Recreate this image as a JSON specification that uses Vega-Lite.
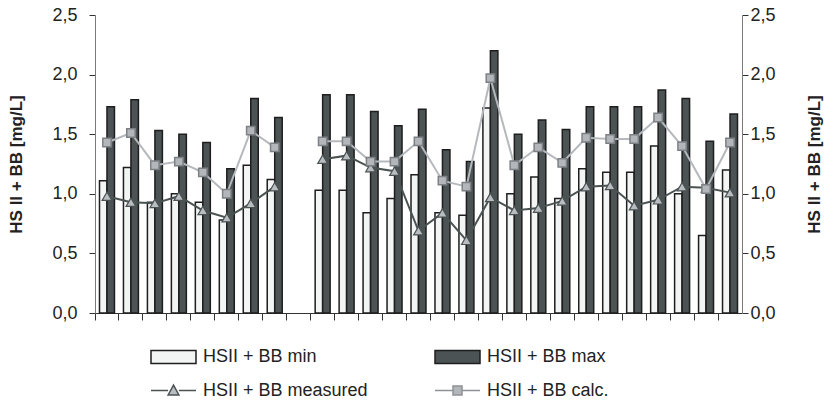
{
  "$schema": "https://vega.github.io/schema/vega-lite/v6.json",
  "width": 647,
  "height": 298,
  "autosize": {"type": "none"},
  "padding": {"left": 95, "top": 15, "right": 86, "bottom": 88},
  "background": "white",
  "config": {
    "view": {"stroke": null},
    "font": "Liberation Sans",
    "axis": {"labelFont": "Liberation Sans", "titleFont": "Liberation Sans", "labelColor": "#222", "titleColor": "#222"},
    "legend": {"labelFont": "Liberation Sans", "labelColor": "#222"}
  },
  "data": {
    "values": [
      {"cat": 1, "seg": 1, "series": "min", "value": 1.11}, {"cat": 1, "seg": 1, "series": "max", "value": 1.73}, {"cat": 1, "seg": 1, "series": "measured", "value": 0.98}, {"cat": 1, "seg": 1, "series": "calc", "value": 1.43},
      {"cat": 2, "seg": 1, "series": "min", "value": 1.22}, {"cat": 2, "seg": 1, "series": "max", "value": 1.79}, {"cat": 2, "seg": 1, "series": "measured", "value": 0.93}, {"cat": 2, "seg": 1, "series": "calc", "value": 1.51},
      {"cat": 3, "seg": 1, "series": "min", "value": 0.93}, {"cat": 3, "seg": 1, "series": "max", "value": 1.53}, {"cat": 3, "seg": 1, "series": "measured", "value": 0.92}, {"cat": 3, "seg": 1, "series": "calc", "value": 1.24},
      {"cat": 4, "seg": 1, "series": "min", "value": 1.00}, {"cat": 4, "seg": 1, "series": "max", "value": 1.50}, {"cat": 4, "seg": 1, "series": "measured", "value": 0.98}, {"cat": 4, "seg": 1, "series": "calc", "value": 1.27},
      {"cat": 5, "seg": 1, "series": "min", "value": 0.93}, {"cat": 5, "seg": 1, "series": "max", "value": 1.43}, {"cat": 5, "seg": 1, "series": "measured", "value": 0.86}, {"cat": 5, "seg": 1, "series": "calc", "value": 1.18},
      {"cat": 6, "seg": 1, "series": "min", "value": 0.78}, {"cat": 6, "seg": 1, "series": "max", "value": 1.21}, {"cat": 6, "seg": 1, "series": "measured", "value": 0.80}, {"cat": 6, "seg": 1, "series": "calc", "value": 1.00},
      {"cat": 7, "seg": 1, "series": "min", "value": 1.24}, {"cat": 7, "seg": 1, "series": "max", "value": 1.80}, {"cat": 7, "seg": 1, "series": "measured", "value": 0.92}, {"cat": 7, "seg": 1, "series": "calc", "value": 1.53},
      {"cat": 8, "seg": 1, "series": "min", "value": 1.12}, {"cat": 8, "seg": 1, "series": "max", "value": 1.64}, {"cat": 8, "seg": 1, "series": "measured", "value": 1.06}, {"cat": 8, "seg": 1, "series": "calc", "value": 1.39},
      {"cat": 10, "seg": 2, "series": "min", "value": 1.03}, {"cat": 10, "seg": 2, "series": "max", "value": 1.83}, {"cat": 10, "seg": 2, "series": "measured", "value": 1.29}, {"cat": 10, "seg": 2, "series": "calc", "value": 1.44},
      {"cat": 11, "seg": 2, "series": "min", "value": 1.03}, {"cat": 11, "seg": 2, "series": "max", "value": 1.83}, {"cat": 11, "seg": 2, "series": "measured", "value": 1.32}, {"cat": 11, "seg": 2, "series": "calc", "value": 1.44},
      {"cat": 12, "seg": 2, "series": "min", "value": 0.84}, {"cat": 12, "seg": 2, "series": "max", "value": 1.69}, {"cat": 12, "seg": 2, "series": "measured", "value": 1.22}, {"cat": 12, "seg": 2, "series": "calc", "value": 1.27},
      {"cat": 13, "seg": 2, "series": "min", "value": 0.96}, {"cat": 13, "seg": 2, "series": "max", "value": 1.57}, {"cat": 13, "seg": 2, "series": "measured", "value": 1.19}, {"cat": 13, "seg": 2, "series": "calc", "value": 1.27},
      {"cat": 14, "seg": 2, "series": "min", "value": 1.16}, {"cat": 14, "seg": 2, "series": "max", "value": 1.71}, {"cat": 14, "seg": 2, "series": "measured", "value": 0.69}, {"cat": 14, "seg": 2, "series": "calc", "value": 1.44},
      {"cat": 15, "seg": 2, "series": "min", "value": 0.84}, {"cat": 15, "seg": 2, "series": "max", "value": 1.37}, {"cat": 15, "seg": 2, "series": "measured", "value": 0.84}, {"cat": 15, "seg": 2, "series": "calc", "value": 1.11},
      {"cat": 16, "seg": 2, "series": "min", "value": 0.82}, {"cat": 16, "seg": 2, "series": "max", "value": 1.27}, {"cat": 16, "seg": 2, "series": "measured", "value": 0.61}, {"cat": 16, "seg": 2, "series": "calc", "value": 1.06},
      {"cat": 17, "seg": 2, "series": "min", "value": 1.72}, {"cat": 17, "seg": 2, "series": "max", "value": 2.20}, {"cat": 17, "seg": 2, "series": "measured", "value": 0.97}, {"cat": 17, "seg": 2, "series": "calc", "value": 1.97},
      {"cat": 18, "seg": 2, "series": "min", "value": 1.00}, {"cat": 18, "seg": 2, "series": "max", "value": 1.50}, {"cat": 18, "seg": 2, "series": "measured", "value": 0.86}, {"cat": 18, "seg": 2, "series": "calc", "value": 1.24},
      {"cat": 19, "seg": 2, "series": "min", "value": 1.14}, {"cat": 19, "seg": 2, "series": "max", "value": 1.62}, {"cat": 19, "seg": 2, "series": "measured", "value": 0.88}, {"cat": 19, "seg": 2, "series": "calc", "value": 1.39},
      {"cat": 20, "seg": 2, "series": "min", "value": 0.96}, {"cat": 20, "seg": 2, "series": "max", "value": 1.54}, {"cat": 20, "seg": 2, "series": "measured", "value": 0.94}, {"cat": 20, "seg": 2, "series": "calc", "value": 1.26},
      {"cat": 21, "seg": 2, "series": "min", "value": 1.21}, {"cat": 21, "seg": 2, "series": "max", "value": 1.73}, {"cat": 21, "seg": 2, "series": "measured", "value": 1.06}, {"cat": 21, "seg": 2, "series": "calc", "value": 1.47},
      {"cat": 22, "seg": 2, "series": "min", "value": 1.18}, {"cat": 22, "seg": 2, "series": "max", "value": 1.73}, {"cat": 22, "seg": 2, "series": "measured", "value": 1.07}, {"cat": 22, "seg": 2, "series": "calc", "value": 1.46},
      {"cat": 23, "seg": 2, "series": "min", "value": 1.18}, {"cat": 23, "seg": 2, "series": "max", "value": 1.73}, {"cat": 23, "seg": 2, "series": "measured", "value": 0.90}, {"cat": 23, "seg": 2, "series": "calc", "value": 1.46},
      {"cat": 24, "seg": 2, "series": "min", "value": 1.40}, {"cat": 24, "seg": 2, "series": "max", "value": 1.87}, {"cat": 24, "seg": 2, "series": "measured", "value": 0.95}, {"cat": 24, "seg": 2, "series": "calc", "value": 1.64},
      {"cat": 25, "seg": 2, "series": "min", "value": 1.00}, {"cat": 25, "seg": 2, "series": "max", "value": 1.80}, {"cat": 25, "seg": 2, "series": "measured", "value": 1.06}, {"cat": 25, "seg": 2, "series": "calc", "value": 1.40},
      {"cat": 26, "seg": 2, "series": "min", "value": 0.65}, {"cat": 26, "seg": 2, "series": "max", "value": 1.44}, {"cat": 26, "seg": 2, "series": "measured", "value": 1.05}, {"cat": 26, "seg": 2, "series": "calc", "value": 1.04},
      {"cat": 27, "seg": 2, "series": "min", "value": 1.20}, {"cat": 27, "seg": 2, "series": "max", "value": 1.67}, {"cat": 27, "seg": 2, "series": "measured", "value": 1.01}, {"cat": 27, "seg": 2, "series": "calc", "value": 1.43}
    ]
  },
  "encoding": {
    "x": {
      "field": "cat", "type": "ordinal",
      "scale": {"domain": [1,2,3,4,5,6,7,8,9,10,11,12,13,14,15,16,17,18,19,20,21,22,23,24,25,26,27], "paddingInner": 0, "paddingOuter": 0},
      "axis": {"title": null, "labels": false, "bandPosition": 0, "tickSize": 7, "tickColor": "#333", "domainColor": "#333", "domainWidth": 1, "tickWidth": 1, "grid": false,
               "encode": {"ticks": {"update": {"y": {"value": -7}}}}}
    }
  },
  "layer": [
    {
      "transform": [{"filter": "datum.series == 'min' || datum.series == 'max'"}],
      "mark": {"type": "bar", "strokeWidth": 1.5},
      "encoding": {
        "xOffset": {"field": "series", "scale": {"domain": ["min", "max"], "paddingInner": 0, "paddingOuter": 0.6}},
        "y": {
          "field": "value", "type": "quantitative",
          "scale": {"domain": [0, 2.5], "nice": false, "zero": true},
          "axis": {"orient": "left", "title": "HS II + BB [mg/L]", "values": [0, 0.5, 1, 1.5, 2, 2.5],
                   "labelExpr": "replace(format(datum.value, '.1f'), '.', ',')",
                   "grid": false, "tickSize": 6, "labelPadding": 12, "labelFontSize": 18,
                   "titleFontSize": 17, "titleFontWeight": "bold", "titlePadding": 30, "titleBaseline": "alphabetic",
                   "domainColor": "#7a7a7a", "tickColor": "#333",
                   "encode": {"ticks": {"update": {"x": {"value": 5}}}}}
        },
        "fill": {"field": "series", "type": "nominal",
                 "scale": {"domain": ["min", "max", "measured", "calc"], "range": ["#f3f4f4", "#4b5354", "#b9bdc1", "#b3b7bb"]}},
        "stroke": {"field": "series", "type": "nominal",
                   "scale": {"domain": ["min", "max", "measured", "calc"], "range": ["#1e1e1e", "#1e1e1e", "#4a5252", "#8e9296"]}}
      }
    },
    {
      "transform": [{"filter": "datum.series == 'measured'"}],
      "mark": {"type": "line", "stroke": "#4a5252", "strokeWidth": 2},
      "encoding": {
        "y": {
          "field": "value", "type": "quantitative",
          "axis": {"orient": "right", "title": "HS II + BB [mg/L]", "values": [0, 0.5, 1, 1.5, 2, 2.5],
                   "labelExpr": "replace(format(datum.value, '.1f'), '.', ',')",
                   "grid": false, "tickSize": 6, "labelPadding": 2, "labelFontSize": 18,
                   "titleFontSize": 17, "titleFontWeight": "bold", "titlePadding": 31, "titleAngle": 270, "titleBaseline": "top",
                   "domainColor": "#7a7a7a", "tickColor": "#333",
                   "encode": {"ticks": {"update": {"x": {"value": -5}}}}}
        },
        "detail": {"field": "seg"}
      }
    },
    {
      "transform": [{"filter": "datum.series == 'calc'"}],
      "mark": {"type": "line", "stroke": "#b5b9bd", "strokeWidth": 2},
      "encoding": {
        "y": {"field": "value", "type": "quantitative", "axis": null},
        "detail": {"field": "seg"}
      }
    },
    {
      "transform": [{"filter": "datum.series == 'measured'"}],
      "mark": {"type": "point", "shape": "triangle-up", "size": 95, "filled": true, "fill": "#b9bdc1", "stroke": "#4a5252", "strokeWidth": 1.2, "opacity": 1},
      "encoding": {
        "y": {"field": "value", "type": "quantitative", "axis": null}
      }
    },
    {
      "transform": [{"filter": "datum.series == 'calc'"}],
      "mark": {"type": "point", "shape": "square", "size": 70, "filled": true, "fill": "#b3b7bb", "stroke": "#7d8185", "strokeWidth": 1.5, "opacity": 1},
      "encoding": {
        "y": {"field": "value", "type": "quantitative", "axis": null}
      }
    },
    {
      "transform": [{"filter": "false"}],
      "mark": {"type": "point", "filled": true, "opacity": 1},
      "encoding": {
        "y": {"field": "value", "type": "quantitative", "axis": null},
        "fill": {"field": "series", "type": "nominal"},
        "stroke": {"field": "series", "type": "nominal"},
        "shape": {"field": "series", "type": "nominal",
                  "scale": {"domain": ["min", "max", "measured", "calc"],
                            "range": ["M-1,-0.29H1V0.29H-1Z", "M-1,-0.29H1V0.29H-1Z",
                                      "M-1,0H-0.24M0.24,0H1M-0.24,0.2L0,-0.24L0.24,0.2Z",
                                      "M-1,0H-0.2M0.2,0H1M-0.2,-0.2H0.2V0.2H-0.2Z"]},
                  "legend": {"orient": "none", "legendX": 55, "legendY": 318, "columns": 2, "direction": "horizontal", "title": null,
                             "symbolSize": 2025, "symbolStrokeWidth": 1.5, "symbolOpacity": 1, "labelLimit": 400,
                             "labelFontSize": 18, "labelOffset": 6, "columnPadding": 64, "rowPadding": 0, "padding": 0,
                             "labelExpr": "'HSII + BB ' + (datum.label == 'calc' ? 'calc.' : datum.label)"}}
      }
    }
  ],
  "resolve": {"axis": {"y": "independent"}}
}
